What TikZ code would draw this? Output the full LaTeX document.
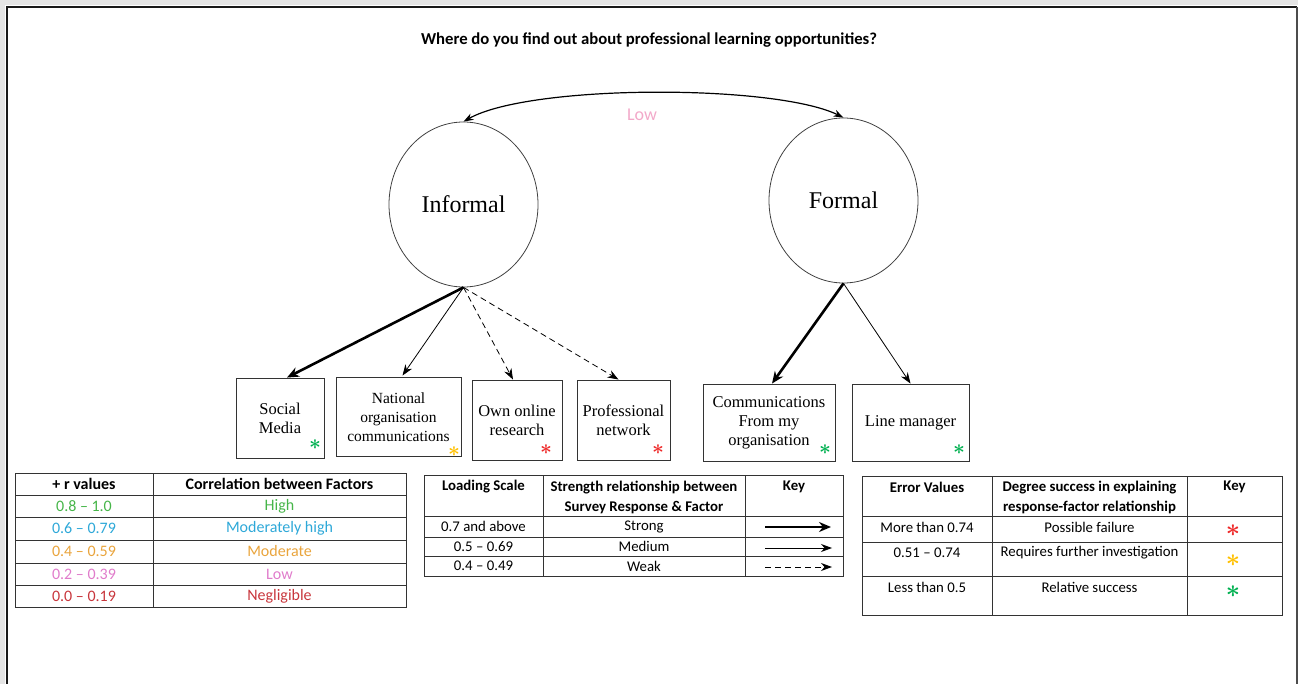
\documentclass[tikz,border=0pt]{standalone}
\usepackage{fontspec}
\usepackage{amsmath}
\setmainfont{Liberation Serif}
\newfontfamily\tabfont{Carlito}
\usetikzlibrary{arrows.meta, positioning, shapes.geometric}
\tikzset{>=stealth}

\definecolor{rhigh}{HTML}{46B549}
\definecolor{rmodhigh}{HTML}{2EA8D8}
\definecolor{rmod}{HTML}{E9A43C}
\definecolor{rlow}{HTML}{E07CCB}
\definecolor{rnegl}{HTML}{C8363C}
\definecolor{lowpink}{HTML}{F2A9C9}
\definecolor{starred}{HTML}{EE2A2A}
\definecolor{staryellow}{HTML}{FFC000}
\definecolor{stargreen}{HTML}{00B050}

\tikzset{
  factor/.style={ellipse, draw=black!75, line width=0.8pt, minimum width=149pt, minimum height=165pt, inner sep=0pt, font=\fontsize{24}{24}\selectfont},
  item/.style={rectangle, draw=black!80, line width=0.9pt, align=center, inner sep=0pt, font=\fontsize{16.5}{19}\selectfont},
  tabtxt/.style={inner sep=0pt, align=center, font=\tabfont\fontsize{14.8}{17}\selectfont},
  tabhead/.style={inner sep=0pt, align=center, font=\tabfont\bfseries\fontsize{14.8}{20}\selectfont},
  corrtxt/.style={inner sep=0pt, align=center, font=\tabfont\fontsize{16}{18}\selectfont},
  corrhead/.style={inner sep=0pt, align=center, font=\tabfont\bfseries\fontsize{16}{18}\selectfont},
  errstar/.style={inner sep=0pt, font=\fontsize{20}{20}\selectfont},
  tabline/.style={draw=black!80, line width=0.9pt},
  strong/.style={-{Stealth[length=12pt,width=10pt]}, line width=2.6pt},
  medium/.style={-{Stealth[length=11pt,width=8pt]}, line width=0.8pt},
  weak/.style={-{Stealth[length=11pt,width=8pt]}, line width=0.8pt, dash pattern=on 6pt off 4pt},
}

\begin{document}
\begin{tikzpicture}[x=1pt, y=-1pt]
  \useasboundingbox (0,0) rectangle (1298,684);
  \fill[black!10] (0,0) rectangle (1298,5);
  \fill[black!10] (0,0) rectangle (5,684);
  \draw[line width=2pt, black!90] (7,684) -- (7,7) -- (1297,7);
  \draw[line width=1.5pt, black!70] (1297,7) -- (1297,684);

  \node[font=\tabfont\bfseries\fontsize{16.7}{19}\selectfont] (title) at (649,40) {Where do you find out about professional learning opportunities?};

  \node[factor] (inf) at (463.5,204.5) {Informal};
  \node[factor] (frm) at (843.5,200.5) {Formal};
  \draw[{Stealth[length=10pt,width=7pt]}-{Stealth[length=10pt,width=7pt]}, line width=1.2pt] (inf.north) .. controls (530,84) and (775,84) .. (frm.north);
  \node[text=lowpink, font=\tabfont\fontsize{18}{18}\selectfont] (low) at (642,115) {Low};

  \node[item, minimum width=88pt, minimum height=80pt] (soc) at (280,418) {Social\\Media};
  \node[item, minimum width=125pt, minimum height=79pt, font=\fontsize{15.5}{19}\selectfont] (nat) at (398.5,417) {National\\organisation\\communications};
  \node[item, minimum width=90pt, minimum height=80pt] (own) at (517,420) {Own online\\research};
  \node[item, minimum width=93pt, minimum height=80pt] (pro) at (623.5,420) {Professional\\network};
  \node[item, minimum width=132pt, minimum height=77pt] (com) at (769,422.5) {Communications\\From my\\organisation};
  \node[item, minimum width=117pt, minimum height=77pt] (lin) at (910.5,422.5) {Line manager};

  \node[errstar, text=stargreen] (socstar) at (315,445) {$\boldsymbol{\ast}$};
  \node[errstar, text=staryellow] (natstar) at (454,452) {$\boldsymbol{\ast}$};
  \node[errstar, text=starred] (ownstar) at (546,450) {$\boldsymbol{\ast}$};
  \node[errstar, text=starred] (prostar) at (658,450) {$\boldsymbol{\ast}$};
  \node[errstar, text=stargreen] (comstar) at (825,450) {$\boldsymbol{\ast}$};
  \node[errstar, text=stargreen] (linstar) at (959,450) {$\boldsymbol{\ast}$};

  \draw[strong] (inf.south) -- ([xshift=7pt]soc.north);
  \draw[medium] (inf.south) -- ([xshift=4pt,yshift=1.5pt]nat.north);
  \draw[weak] (inf.south) -- ([xshift=-4pt]own.north);
  \draw[weak] (inf.south) -- ([xshift=-5pt]pro.north);
  \draw[strong] (frm.south) -- ([xshift=3pt]com.north);
  \draw[medium] (frm.south) -- (lin.north);

  % correlation table
  \draw[tabline] (15,473) rectangle (406,607);
  \draw[tabline] (153,473) -- (153,607);
  \foreach \y in {495,517,540,563,585}
    \draw[tabline] (15,\y) -- (406,\y);
  \node[corrhead] (rhead) at (84,484) {+ r values};
  \node[corrhead] (chead) at (279.5,484) {Correlation between Factors};
  \node[corrtxt, text=rhigh] (r1) at (84,506) {0.8 – 1.0};
  \node[corrtxt, text=rhigh] (c1) at (279.5,506) {High};
  \node[corrtxt, text=rmodhigh] (r2) at (84,528.5) {0.6 – 0.79};
  \node[corrtxt, text=rmodhigh] (c2) at (279.5,528.5) {Moderately high};
  \node[corrtxt, text=rmod] (r3) at (84,551.5) {0.4 – 0.59};
  \node[corrtxt, text=rmod] (c3) at (279.5,551.5) {Moderate};
  \node[corrtxt, text=rlow] (r4) at (84,574) {0.2 – 0.39};
  \node[corrtxt, text=rlow] (c4) at (279.5,574) {Low};
  \node[corrtxt, text=rnegl] (r5) at (84,596) {0.0 – 0.19};
  \node[corrtxt, text=rnegl] (c5) at (279.5,596) {Negligible};

  % loading table
  \draw[tabline] (424,475) rectangle (843,576);
  \draw[tabline] (543,475) -- (543,576);
  \draw[tabline] (745,475) -- (745,576);
  \foreach \y in {516,537,556}
    \draw[tabline] (424,\y) -- (843,\y);
  \node[tabhead] (lhead) at (483.5,487) {Loading Scale};
  \node[tabhead] (shead) at (644,497) {Strength relationship between\\Survey Response \& Factor};
  \node[tabhead] (khead) at (794,487) {Key};
  \node[tabtxt] (l1) at (483.5,526.5) {0.7 and above};
  \node[tabtxt] (s1) at (644,526.5) {Strong};
  \node[tabtxt] (l2) at (483.5,546.5) {0.5 – 0.69};
  \node[tabtxt] (s2) at (644,546.5) {Medium};
  \node[tabtxt] (l3) at (483.5,566) {0.4 – 0.49};
  \node[tabtxt] (s3) at (644,566) {Weak};
  \draw[strong] (765,527) -- (831,527);
  \draw[medium] (765,548) -- (832,548);
  \draw[weak] (765,567) -- (832,567);

  % error table
  \draw[tabline] (862,476) rectangle (1282,615);
  \draw[tabline] (992,476) -- (992,615);
  \draw[tabline] (1187,476) -- (1187,615);
  \foreach \y in {516,542,576}
    \draw[tabline] (862,\y) -- (1282,\y);
  \node[tabhead] (ehead) at (927,487) {Error Values};
  \node[tabhead] (dhead) at (1089.5,497) {Degree success in explaining\\response-factor relationship};
  \node[tabhead] (khead2) at (1234.5,487) {Key};
  \node[tabtxt] (e1) at (927,527) {More than 0.74};
  \node[tabtxt] (d1) at (1089.5,527) {Possible failure};
  \node[errstar, text=starred, font=\fontsize{28}{28}\selectfont] (kstar1) at (1233,531) {$\boldsymbol{\ast}$};
  \node[tabtxt] (e2) at (927,553) {0.51 – 0.74};
  \node[tabtxt] (d2) at (1089.5,553) {Requires further investigation};
  \node[errstar, text=staryellow, font=\fontsize{28}{28}\selectfont] (kstar2) at (1233,561) {$\boldsymbol{\ast}$};
  \node[tabtxt] (e3) at (927,587) {Less than 0.5};
  \node[tabtxt] (d3) at (1089.5,587) {Relative success};
  \node[errstar, text=stargreen, font=\fontsize{28}{28}\selectfont] (kstar3) at (1233,592) {$\boldsymbol{\ast}$};
\end{tikzpicture}
\end{document}
